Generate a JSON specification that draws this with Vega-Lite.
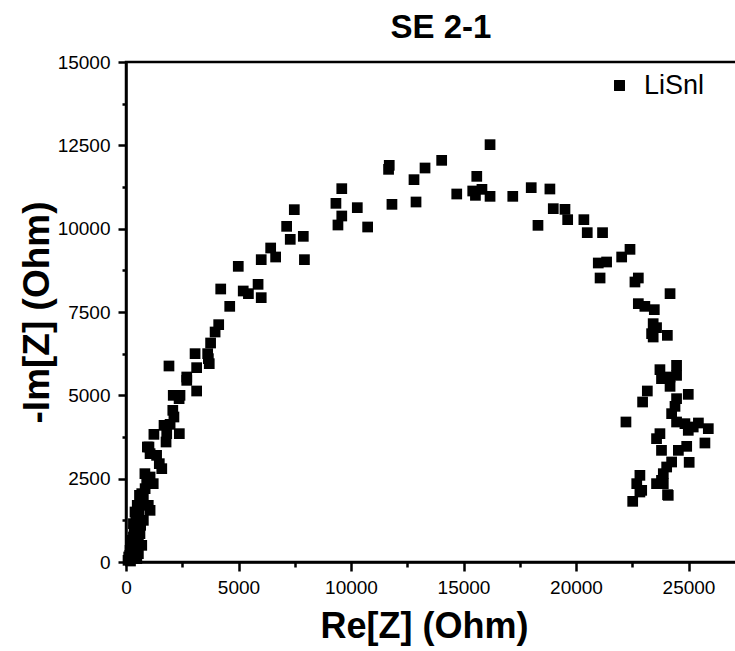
{
  "$schema": "https://vega.github.io/schema/vega-lite/v6.json",
  "width": 612,
  "height": 500,
  "autosize": {"type": "none"},
  "padding": {"left": 126, "top": 62, "right": 0, "bottom": 89},
  "background": "white",
  "config": {
    "font": "Liberation Sans",
    "view": {"stroke": "black", "strokeWidth": 2.5}
  },
  "title": {
    "text": "SE 2-1",
    "fontSize": 33,
    "fontWeight": "bold",
    "font": "Liberation Sans",
    "color": "black",
    "offset": 8,
    "dx": 9
  },
  "data": {
    "values": [
      {"re": 16180, "im": 12520}, {"re": 15590, "im": 11570}, {"re": 14030, "im": 12050}, {"re": 13290, "im": 11820},
      {"re": 12800, "im": 11470}, {"re": 12890, "im": 10800}, {"re": 11700, "im": 11900}, {"re": 11670, "im": 11780},
      {"re": 11820, "im": 10730}, {"re": 14700, "im": 11040}, {"re": 15410, "im": 11130}, {"re": 15530, "im": 11000},
      {"re": 15820, "im": 11180}, {"re": 16180, "im": 10970}, {"re": 17190, "im": 10970}, {"re": 18010, "im": 11230},
      {"re": 18840, "im": 11190}, {"re": 18990, "im": 10600}, {"re": 18310, "im": 10100}, {"re": 9590, "im": 11200},
      {"re": 9330, "im": 10760}, {"re": 10280, "im": 10630}, {"re": 9590, "im": 10380}, {"re": 9420, "im": 10110},
      {"re": 10740, "im": 10050}, {"re": 7480, "im": 10570}, {"re": 7140, "im": 10070}, {"re": 7300, "im": 9680},
      {"re": 7880, "im": 9770}, {"re": 7930, "im": 9070}, {"re": 6430, "im": 9420}, {"re": 6650, "im": 9150},
      {"re": 6010, "im": 9070}, {"re": 4990, "im": 8870}, {"re": 5870, "im": 8330}, {"re": 6010, "im": 7930},
      {"re": 5210, "im": 8130}, {"re": 5440, "im": 8050}, {"re": 4210, "im": 8190}, {"re": 4610, "im": 7670},
      {"re": 4120, "im": 7120}, {"re": 3960, "im": 6900},
      {"re": 19510, "im": 10580}, {"re": 19630, "im": 10270}, {"re": 20350, "im": 10270}, {"re": 20500, "im": 9880},
      {"re": 21180, "im": 9880}, {"re": 22400, "im": 9380}, {"re": 22030, "im": 9150}, {"re": 20990, "im": 8970},
      {"re": 21360, "im": 9000}, {"re": 21070, "im": 8520}, {"re": 22770, "im": 8520}, {"re": 22620, "im": 8400},
      {"re": 24180, "im": 8050}, {"re": 22770, "im": 7750}, {"re": 23060, "im": 7670}, {"re": 23480, "im": 7570},
      {"re": 23430, "im": 7150}, {"re": 23580, "im": 7030}, {"re": 23360, "im": 6850}, {"re": 23430, "im": 6750},
      {"re": 24060, "im": 6800},
      {"re": 23730, "im": 5770}, {"re": 24470, "im": 5900}, {"re": 23800, "im": 5500}, {"re": 24180, "im": 5550},
      {"re": 24470, "im": 5600}, {"re": 24180, "im": 5270}, {"re": 24990, "im": 5030}, {"re": 23170, "im": 5130},
      {"re": 22960, "im": 4800}, {"re": 24470, "im": 4900}, {"re": 24400, "im": 4670}, {"re": 24250, "im": 4450},
      {"re": 22220, "im": 4200}, {"re": 24470, "im": 4200}, {"re": 24840, "im": 4150}, {"re": 25440, "im": 4170},
      {"re": 25880, "im": 4000}, {"re": 24990, "im": 3950}, {"re": 25210, "im": 4050}, {"re": 23730, "im": 3850},
      {"re": 23580, "im": 3700}, {"re": 23800, "im": 3350}, {"re": 24550, "im": 3350}, {"re": 24920, "im": 3470},
      {"re": 25730, "im": 3570}, {"re": 24250, "im": 3000}, {"re": 24030, "im": 2850}, {"re": 25030, "im": 2990},
      {"re": 23880, "im": 2650}, {"re": 23800, "im": 2450}, {"re": 22840, "im": 2600}, {"re": 22700, "im": 2350},
      {"re": 22840, "im": 2100}, {"re": 24070, "im": 2020}, {"re": 22520, "im": 1820}, {"re": 22920, "im": 2150},
      {"re": 23580, "im": 2350}, {"re": 23880, "im": 2350}, {"re": 24100, "im": 2000},
      {"re": 3760, "im": 6570}, {"re": 3070, "im": 6250}, {"re": 3630, "im": 6250}, {"re": 3660, "im": 6100},
      {"re": 3700, "im": 5950}, {"re": 1910, "im": 5880}, {"re": 3140, "im": 5830}, {"re": 2700, "im": 5550},
      {"re": 2700, "im": 5450}, {"re": 3140, "im": 5130}, {"re": 2100, "im": 5000}, {"re": 2400, "im": 5000},
      {"re": 2360, "im": 4900}, {"re": 2080, "im": 4550}, {"re": 2130, "im": 4350}, {"re": 1690, "im": 4100},
      {"re": 1960, "im": 4130}, {"re": 1240, "im": 3830}, {"re": 1810, "im": 3850}, {"re": 2370, "im": 3850},
      {"re": 1780, "im": 3600}, {"re": 950, "im": 3450}, {"re": 1020, "im": 3450}, {"re": 1070, "im": 3250},
      {"re": 1360, "im": 3200}, {"re": 1480, "im": 2950}, {"re": 1590, "im": 2800}, {"re": 840, "im": 2650},
      {"re": 1070, "im": 2550}, {"re": 1210, "im": 2350}, {"re": 920, "im": 2450}, {"re": 700, "im": 2050},
      {"re": 770, "im": 1900}, {"re": 990, "im": 1700}, {"re": 1070, "im": 1550}, {"re": 400, "im": 1500},
      {"re": 550, "im": 1400}, {"re": 770, "im": 1250}, {"re": 330, "im": 1150}, {"re": 480, "im": 1000},
      {"re": 620, "im": 850}, {"re": 330, "im": 750}, {"re": 550, "im": 650}, {"re": 700, "im": 500},
      {"re": 250, "im": 450}, {"re": 400, "im": 300}, {"re": 550, "im": 250}, {"re": 170, "im": 200},
      {"re": 330, "im": 100}, {"re": 480, "im": 100}, {"re": 90, "im": 50}, {"re": 180, "im": 350},
      {"re": 270, "im": 650}, {"re": 360, "im": 950}, {"re": 440, "im": 1250}, {"re": 580, "im": 1550},
      {"re": 710, "im": 1850}, {"re": 200, "im": 30}, {"re": 120, "im": 150}, {"re": 300, "im": 550},
      {"re": 650, "im": 1100}, {"re": 850, "im": 2200}, {"re": 500, "im": 1700}, {"re": 600, "im": 2000}
    ]
  },
  "mark": {"type": "point", "shape": "square", "filled": true, "size": 115, "opacity": 1},
  "encoding": {
    "x": {
      "field": "re",
      "type": "quantitative",
      "scale": {"domain": [0, 27200], "nice": false, "zero": false},
      "axis": {
        "title": "Re[Z] (Ohm)",
        "titleFontSize": 36,
        "titleFontWeight": "bold",
        "titleColor": "black",
        "titlePadding": 12,
        "titleX": 298,
        "values": [0, 2500, 5000, 7500, 10000, 12500, 15000, 17500, 20000, 22500, 25000],
        "format": "d",
        "labelExpr": "datum.value % 5000 === 0 ? datum.label : ''",
        "labelFontSize": 19,
        "labelColor": "black",
        "labelPadding": 7,
        "labelFlush": false,
        "labelOverlap": false,
        "tickSize": {"condition": {"test": "datum.value % 5000 === 0", "value": 9}, "value": 5},
        "tickWidth": 2.5,
        "tickColor": "black",
        "domainColor": "black",
        "domainWidth": 2.5,
        "grid": false
      }
    },
    "y": {
      "field": "im",
      "type": "quantitative",
      "scale": {"domain": [0, 15000], "nice": false},
      "axis": {
        "title": "-Im[Z] (Ohm)",
        "titleFontSize": 37,
        "titleFontWeight": "bold",
        "titleColor": "black",
        "titlePadding": 1,
        "values": [0, 1250, 2500, 3750, 5000, 6250, 7500, 8750, 10000, 11250, 12500, 13750, 15000],
        "format": "d",
        "labelExpr": "datum.value % 2500 === 0 ? datum.label : ''",
        "labelFontSize": 19,
        "labelColor": "black",
        "labelPadding": 8,
        "labelFlush": false,
        "labelOverlap": false,
        "tickSize": {"condition": {"test": "datum.value % 2500 === 0", "value": 8}, "value": 4},
        "tickWidth": 2.5,
        "tickColor": "black",
        "domainColor": "black",
        "domainWidth": 2.5,
        "grid": false
      }
    },
    "color": {
      "datum": "LiSnl",
      "type": "nominal",
      "scale": {"range": ["black"]},
      "legend": {
        "title": null,
        "orient": "none",
        "legendX": 480,
        "legendY": 10,
        "symbolType": "square",
        "symbolSize": 120,
        "symbolFillColor": "black",
        "symbolStrokeWidth": 0,
        "labelFontSize": 27,
        "labelColor": "black",
        "labelOffset": 11
      }
    }
  }
}
